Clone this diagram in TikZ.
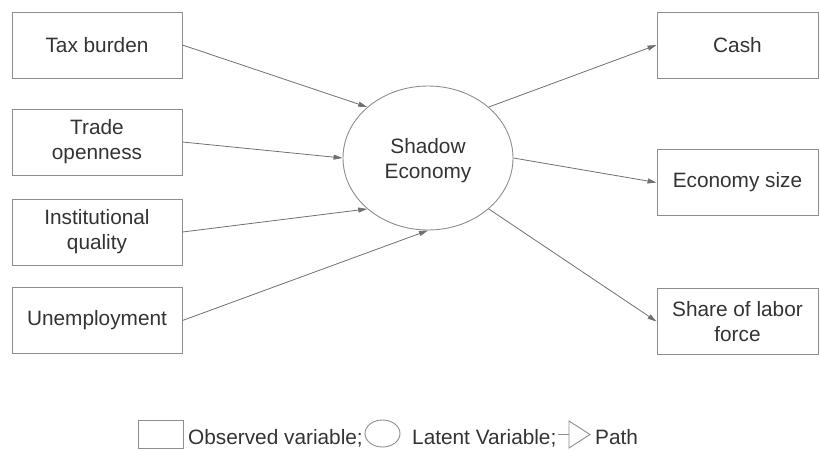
\documentclass[tikz,border=0pt]{standalone}
\usepackage{fontspec}
\setmainfont{Liberation Sans}
\usetikzlibrary{shapes.geometric,arrows.meta}
\definecolor{ink}{HTML}{333333}
\definecolor{rim}{HTML}{8E8E8E}
\definecolor{wire}{HTML}{707070}
\tikzset{
  obs/.style={draw=rim, line width=0.9pt, rectangle, minimum height=66pt, inner sep=0pt,
              align=center, text=ink, font=\fontsize{20.8}{25}\selectfont},
  latent/.style={draw=rim, line width=0.9pt, ellipse, minimum width=170pt, minimum height=144pt,
                 inner sep=0pt},
  caption/.style={inner sep=0pt, align=center, text=ink, font=\fontsize{20.8}{25}\selectfont},
  link/.style={draw=wire, line width=0.8pt, -{Triangle[length=9pt,width=5pt]}},
  legtext/.style={anchor=base west, inner sep=0pt, text=ink, font=\fontsize{20.8}{24}\selectfont}
}
\begin{document}
\begin{tikzpicture}[x=1pt, y=-1pt]
  \useasboundingbox (0,0) rectangle (820,451);

  % causes (observed indicators on the left)
  \node[obs, minimum width=170pt] (tax)   at (97,45)    {Tax burden};
  \node[obs, minimum width=170pt] (trade) at (97,142)   {Trade\\openness};
  \node[obs, minimum width=170pt] (inst)  at (97,232)   {Institutional\\quality};
  \node[obs, minimum width=170pt] (unemp) at (97,320.5) {Unemployment};

  % latent construct
  \node[latent] (se) at (428,158) {};
  \node[caption] (setext) at ([yshift=-3pt]se.center) {Shadow\\Economy};

  % effects (observed indicators on the right)
  \node[obs, minimum width=161pt] (cash) at (737.5,45)    {Cash};
  \node[obs, minimum width=161pt] (size) at (737.5,182.5) {Economy size};
  \node[obs, minimum width=161pt] (labor) at (737.5,321.5) {Share of labor\\force};

  % paths
  \draw[link] (tax.east)   -- (se.140);
  \draw[link] (trade.east) -- (se.180);
  \draw[link] (inst.east)  -- (se.220);
  \draw[link] (unemp.east) -- (se.270);
  \draw[link] (se.40)  -- (cash.west);
  \draw[link] (se.0)   -- (size.west);
  \draw[link] (se.320) -- (labor.west);

  % legend
  \node[draw=rim, line width=0.9pt, rectangle, minimum width=45pt, minimum height=28pt, inner sep=0pt]
    (legbox) at (160.5,434) {};
  \node[legtext] (legobs) at (188,444) {Observed variable;};
  \node[draw=rim, line width=0.9pt, ellipse, minimum width=35pt, minimum height=27pt, inner sep=0pt]
    (legell) at (382.5,433.5) {};
  \node[legtext] (leglat) at (412,444) {Latent Variable;};
  \coordinate (pathA) at (558,434);
  \coordinate (pathB) at (569,434);
  \draw[draw=rim, line width=0.9pt] (pathA) -- (pathB);
  \draw[draw=rim, line width=0.9pt, line join=miter] (569,421) -- (590,434.5) -- (569,448) -- cycle;
  \node[legtext] (legpath) at (595,444) {Path};
\end{tikzpicture}
\end{document}
